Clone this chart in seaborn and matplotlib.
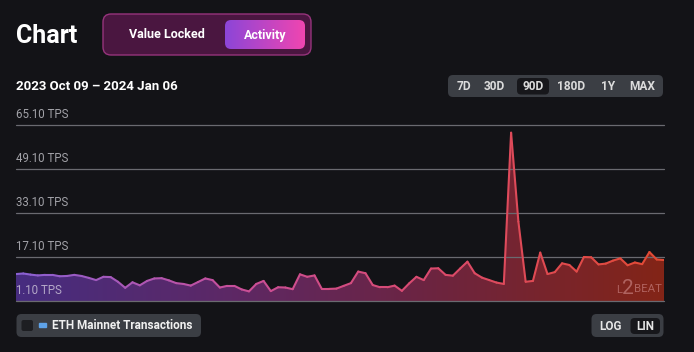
import numpy as np
import pandas as pd
import seaborn as sns
import matplotlib.pyplot as plt
from matplotlib.colors import LinearSegmentedColormap
from matplotlib.patches import FancyBboxPatch, Rectangle

# dados (TPS diario, 2023-10-09 a 2024-01-06)
dias = pd.date_range('2023-10-09', '2024-01-06', freq='D')
tps = [10.9, 11.1, 10.7, 10.4, 10.6, 10.6, 10.1, 10.2, 10.6, 10.2,
       9.5, 8.7, 9.9, 9.8, 8.1, 5.9, 7.9, 6.8, 8.4, 9.3,
       9.4, 8.6, 7.6, 7.3, 6.7, 8.0, 9.3, 8.7, 6.0, 6.6,
       6.6, 5.3, 4.6, 7.3, 8.4, 4.7, 6.1, 6.0, 5.4, 10.8,
       9.9, 10.4, 5.5, 5.5, 5.6, 6.6, 7.6, 11.8, 11.2, 6.9,
       6.1, 6.1, 6.7, 4.8, 7.5, 9.9, 8.7, 12.9, 13.0, 10.6,
       10.3, 12.9, 15.4, 11.2, 9.6, 8.7, 7.8, 7.3, 62.3, 30.0,
       8.1, 8.4, 18.7, 10.9, 11.6, 14.8, 14.2, 11.8, 17.1, 17.0,
       14.4, 14.7, 15.8, 16.6, 14.1, 15.1, 14.5, 18.9, 16.2, 16.0]
ticks_y = [1.10, 17.10, 33.10, 49.10, 65.10]
periodos = ['7D', '30D', '90D', '180D', '1Y', 'MAX']
periodo_ativo = '90D'
escalas = ['LOG', 'LIN']

BG = '#131317'
sns.set_theme(style='dark')
plt.rcParams['font.family'] = ['Roboto', 'DejaVu Sans']

fig = plt.figure(figsize=(6.94, 3.52), dpi=100, facecolor=BG)
ax = fig.add_axes([16 / 694, 1 - 301 / 352, 648 / 694, 176 / 352])
ax.set_facecolor(BG)

x = np.arange(len(tps))
y = np.array(tps)

cmap_linha = LinearSegmentedColormap.from_list('linha', ['#8a60d2', '#c84f9a', '#dc4a6a', '#e24a34'])
cmap_area = LinearSegmentedColormap.from_list('area', ['#4a2f86', '#622a6a', '#742640', '#8a2718'])

# area com gradiente horizontal
area = ax.fill_between(x, y, ticks_y[0], color='none', lw=0)
grad = np.linspace(0, 1, 256).reshape(1, -1)
img = ax.imshow(grad, extent=[x[0], x[-1], ticks_y[0], ticks_y[-1]], aspect='auto',
                cmap=cmap_area, origin='lower', zorder=1, alpha=0.95)
img.set_clip_path(area.get_paths()[0], transform=ax.transData)

# grade
for t in ticks_y:
    ax.axhline(t, color='#6a6a70', lw=0.9, zorder=2, clip_on=False)
    cor = '#b4a8c8' if t == ticks_y[0] else '#a2a2a8'
    ax.annotate(f'{t:.2f} TPS', xy=(0, t), xycoords=('axes fraction', 'data'),
                xytext=(0, 3), textcoords='offset points', ha='left', va='bottom',
                fontsize=8.3, color=cor, zorder=4)

# linha com gradiente: um segmento por cor
seg = pd.DataFrame({
    'x': np.concatenate([x[:-1], x[1:]]),
    'y': np.concatenate([y[:-1], y[1:]]),
    'seg': np.concatenate([x[:-1], x[:-1]]),
})
sns.lineplot(data=seg, x='x', y='y', hue='seg', palette=cmap_linha, hue_norm=(0, len(x) - 2),
             estimator=None, sort=False, legend=False, lw=1.5, ax=ax, zorder=3)

ax.set_xlim(x[0], x[-1])
ax.set_ylim(ticks_y[0], ticks_y[-1])
ax.set_xticks([])
ax.set_yticks([])
ax.set_xlabel('')
ax.set_ylabel('')
for s in ax.spines.values():
    s.set_visible(False)

# camada de interface em pixels
ui = fig.add_axes([0, 0, 1, 1], zorder=5)
ui.set_xlim(0, 694)
ui.set_ylim(352, 0)
ui.axis('off')
ui.patch.set_visible(False)


def caixa(x0, y0, x1, y1, cor, r=5, borda=None, lw=0):
    p = FancyBboxPatch((x0, y0), x1 - x0, y1 - y0, boxstyle=f'round,pad=0,rounding_size={r}',
                       fc=cor, ec=borda if borda else 'none', lw=lw)
    ui.add_patch(p)
    return p


ui.text(16, 36, 'Chart', fontsize=18, fontweight='bold', color='white', va='center', ha='left')

caixa(103, 14, 311, 55, '#4a1640', r=8, borda='#96347c', lw=1)
botao = caixa(225, 20, 305, 49, 'none', r=6)
gr = np.linspace(0, 1, 256).reshape(1, -1)
cmap_btn = LinearSegmentedColormap.from_list('btn', ['#8c46d8', '#f045b0'])
im = ui.imshow(gr, extent=[225, 305, 49, 20], aspect='auto', cmap=cmap_btn, zorder=1)
im.set_clip_path(botao)
ui.set_xlim(0, 694)
ui.set_ylim(352, 0)
ui.text(167, 35, 'Value Locked', fontsize=9, fontweight='bold', color='white', ha='center', va='center')
ui.text(265, 35, 'Activity', fontsize=9, fontweight='bold', color='white', ha='center', va='center', zorder=2)

ui.text(16, 86.5, f'{dias[0]:%Y %b %d} \u2013 {dias[-1]:%Y %b %d}', fontsize=9.5,
        fontweight='bold', color='white', ha='left', va='center')

# seletor de periodo
caixa(448, 75, 663, 97, '#3b3e44', r=5)
pos_periodo = [464, 494, 533, 571, 608, 642]
for p, px in zip(periodos, pos_periodo):
    if p == periodo_ativo:
        caixa(px - 16, 78, px + 16, 94.5, '#17171b', r=4)
    ui.text(px, 86.5, p, fontsize=8.6, fontweight='bold', color='#dcdcdc', ha='center', va='center')

# legenda
caixa(16.5, 314, 201, 337, '#3b3e44', r=5)
caixa(21.5, 320, 33, 331, '#1d1e22', r=2)
ui.add_patch(Rectangle((39, 323), 7.5, 4, color='#5ea2e8'))
ui.text(52, 325.5, 'ETH Mainnet Transactions', fontsize=8.5, fontweight='bold', color='#f0f0f0',
        ha='left', va='center')

# LOG / LIN
caixa(591.5, 314, 663.5, 337, '#3b3e44', r=5)
caixa(630.5, 318, 660, 334, '#17171b', r=4)
for e, px in zip(escalas, [610.5, 645]):
    ui.text(px, 326, e, fontsize=8.5, fontweight='bold', color='#e6e6e6', ha='center', va='center')

# marca d'agua
ui.text(616, 293, 'L', fontsize=8, color='#d08c8c', alpha=0.6, ha='left', va='baseline')
ui.text(622.5, 293.5, '2', fontsize=15, color='#d08c8c', alpha=0.6, ha='left', va='baseline')
ui.text(634.5, 292.5, 'BEAT', fontsize=8.2, color='#d08c8c', alpha=0.6, ha='left', va='baseline')

fig.savefig('out.png', dpi=100, facecolor=BG)
